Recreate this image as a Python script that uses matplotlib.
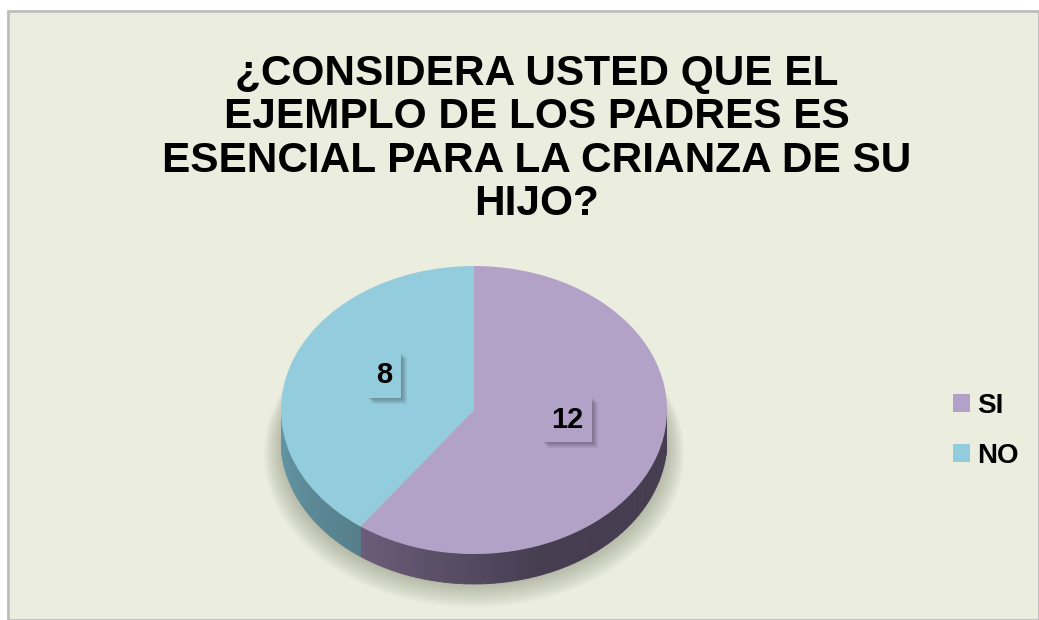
import matplotlib
matplotlib.use("Agg")
import matplotlib.pyplot as plt
import numpy as np
from matplotlib.patches import Rectangle, Polygon, Ellipse, Patch
from matplotlib.transforms import IdentityTransform

# ---- data ----
categories = ["SI", "NO"]
values = [12, 8]
title_lines = ["¿CONSIDERA USTED QUE EL", "EJEMPLO DE LOS PADRES ES",
               "ESENCIAL PARA LA CRIANZA DE SU", "HIJO?"]

top_colors = ["#B3A2C7", "#93CDDD"]
side_dark = ["#463D50", "#557F8B"]
side_light = ["#6C5D7B", "#6699A7"]
BG = "#EBEEDE"
FONT = "Liberation Sans"

W, H = 1039, 620
fig = plt.figure(figsize=(W / 100, H / 100), dpi=100, facecolor="white")

# chart panel
bg_ax = fig.add_axes([0, 0, 1, 1])
bg_ax.set_xlim(0, W)
bg_ax.set_ylim(H, 0)
bg_ax.axis("off")
bg_ax.add_patch(Rectangle((8, 11), W - 8, H - 11, facecolor=BG, edgecolor="#BDBDBD", lw=2))

# title
fig.text(537 / W, 1 - 139 / H, "\n".join(title_lines), ha="center", va="center",
         fontsize=30.5, fontweight="bold", family=FONT, linespacing=1.1, color="black")

# ---- pie ----
cx, cy, a, b, depth = 474, 410, 193, 144, 30
d = depth / b
ax_h = b * (2 + d + 0.15)
left = (cx - a) / W
bottom = 1 - (cy - b + ax_h) / H
ax = fig.add_axes([left, bottom, 2 * a / W, ax_h / H])

# soft shadow below pie
for k in range(12):
    s = 1.0 + 0.008 * k
    ax.add_patch(Ellipse((0.0, -d - 0.03 - 0.006 * k), 2 * s, 2 * s * 0.98,
                         facecolor="#6F7460", alpha=0.04, edgecolor="none",
                         zorder=0, clip_on=False))

wedges, _ = ax.pie(values, colors=top_colors, startangle=90, counterclock=False,
                   wedgeprops=dict(linewidth=0), radius=1)
for w in wedges:
    w.set_zorder(3)
ax.set_aspect("auto")
ax.set_xlim(-1, 1)
ax.set_ylim(-1 - d - 0.15, 1)
ax.set_autoscale_on(False)
ax.axis("off")

# side walls (front half) from the same values
total = sum(values)
start = 90.0
for i, v in enumerate(values):
    sweep = 360.0 * v / total
    t1, t2 = start - sweep, start  # clockwise
    start = t1
    for off in (0, 360, -360):
        lo, hi = max(t1 + off, 180), min(t2 + off, 360)
        if hi <= lo:
            continue
        n = 60
        th = np.linspace(lo, hi, n + 1)
        c1 = np.array(matplotlib.colors.to_rgb(side_light[i]))
        c2 = np.array(matplotlib.colors.to_rgb(side_dark[i]))
        for j in range(n):
            ang = np.radians(th[j:j + 2])
            xs = np.cos(ang)
            ys = np.sin(ang)
            poly = np.column_stack([np.r_[xs, xs[::-1]], np.r_[ys, ys[::-1] - d]])
            frac = (j + 0.5) / n
            if i == 0:
                col = c1 + (c2 - c1) * min(1, frac * 2.2)
            else:
                col = c1 + (c2 - c1) * frac
            ax.add_patch(Polygon(poly, closed=True, facecolor=col, edgecolor=col,
                                 lw=0.6, zorder=2))

# value labels
start = 90.0
radii = [0.507, 0.49]
labels = []
for i, v in enumerate(values):
    sweep = 360.0 * v / total
    mid = np.radians(start - sweep / 2)
    start -= sweep
    x, y = radii[i] * np.cos(mid), radii[i] * np.sin(mid) + 0.09
    t = ax.text(x, y, str(v), ha="center", va="center", fontsize=21, fontweight="bold",
                family=FONT, color="black", zorder=6,
                bbox=dict(boxstyle="square,pad=0.3", facecolor=top_colors[i],
                          edgecolor="none"))
    labels.append(t)

# soft drop shadows behind the label boxes (plain rectangles in pixel space)
fig.canvas.draw()
renderer = fig.canvas.get_renderer()
for t in labels:
    bb = t.get_bbox_patch().get_window_extent(renderer)
    for k in range(1, 7):
        off = 1.0 * k
        r = Rectangle((bb.x0 + off, bb.y0 - off), bb.width, bb.height,
                      facecolor="#2E2A33", alpha=0.07, edgecolor="none", zorder=4,
                      clip_on=False)
        r.set_transform(IdentityTransform())
        ax.add_artist(r)

# legend
handles = [Patch(facecolor=c, edgecolor="none") for c in top_colors]
fig.legend(handles, categories, loc="center left", bbox_to_anchor=(953 / W, 1 - 431 / H),
           frameon=False, prop=dict(family=FONT, weight="bold", size=20),
           handlelength=0.62, handleheight=0.62, handletextpad=0.25, labelspacing=0.85,
           borderaxespad=0, borderpad=0)

fig.savefig("out.png", dpi=100, facecolor="white")
